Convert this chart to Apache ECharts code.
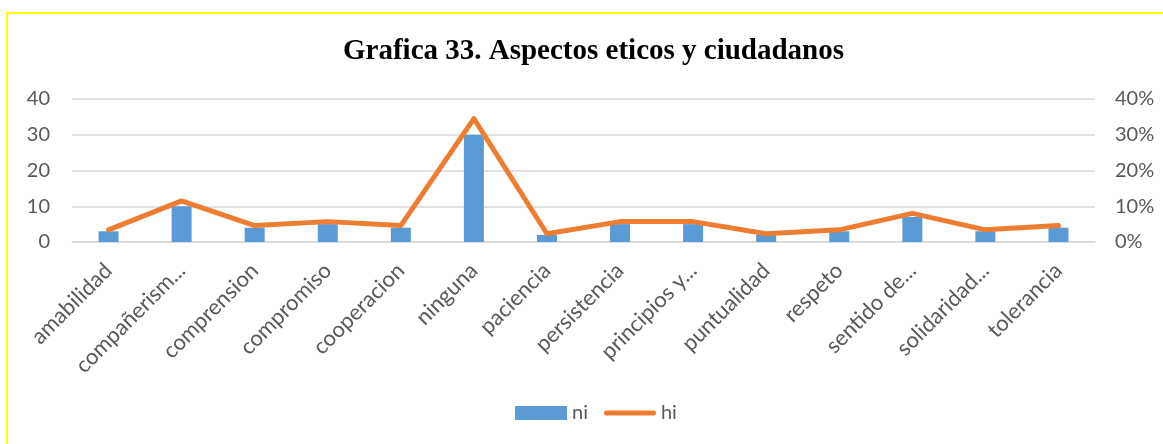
<!DOCTYPE html>
<html>
<head>
<meta charset="utf-8">
<script src="https://cdn.jsdelivr.net/npm/echarts@6/dist/echarts.min.js"></script>
<style>
  html, body { margin: 0; padding: 0; background: #fff; }
  #frame { position: absolute; left: 6px; top: 12px; width: 1200px; height: 480px;
           border: 2px solid #FFFF00; box-sizing: border-box; }
  #chart { position: absolute; left: 0; top: 0; width: 1163px; height: 444px; }
</style>
</head>
<body>
<div id="frame"></div>
<div id="chart"></div>
<script>
// Categories (ethical and civic aspects)
const categories = ['amabilidad', 'compañerism...', 'comprension', 'compromiso', 'cooperacion',
  'ninguna', 'paciencia', 'persistencia', 'principios y...', 'puntualidad', 'respeto',
  'sentido de...', 'solidaridad...', 'tolerancia'];
// Absolute frequency
const ni = [3, 10, 4, 5, 4, 30, 2, 5, 5, 2, 3, 7, 3, 4];
// Relative frequency
const hi = [0.034, 0.115, 0.046, 0.057, 0.046, 0.345, 0.023, 0.057, 0.057, 0.023, 0.034, 0.080, 0.034, 0.046];
// Axis ticks
const leftTicks = [0, 10, 20, 30, 40];
const rightTicks = [0, 0.1, 0.2, 0.3, 0.4];

const labelFont = 'Lato, "Open Sans", sans-serif';
const lineIcon = 'path://M2.5,0 L49.5,0 A2.5,2.5 0 0 1 49.5,5 L2.5,5 A2.5,2.5 0 0 1 2.5,0 Z';
const chart = echarts.init(document.getElementById('chart'), null, { renderer: 'canvas' });
chart.setOption({
  animation: false,
  title: {
    text: 'Grafica 33. Aspectos eticos y ciudadanos',
    left: 338, top: 32,
    textStyle: { fontFamily: '"Liberation Serif", "Times New Roman", serif', fontWeight: 'bold', fontSize: 29, color: '#000' }
  },
  legend: {
    bottom: 16, left: 510,
    itemWidth: 52, itemHeight: 14, itemGap: 16,
    textStyle: { fontFamily: labelFont, fontSize: 20, color: '#595959' },
    data: [
      { name: 'ni', icon: 'rect' },
      { name: 'hi', icon: lineIcon }
    ]
  },
  grid: { left: 72, right: 68, top: 99, bottom: 202, containLabel: false },
  xAxis: {
    type: 'category', data: categories,
    axisLine: { show: true, lineStyle: { color: '#D9D9D9', width: 1.5 } },
    axisTick: { show: false },
    axisLabel: { rotate: 45, interval: 0, margin: 25, fontFamily: labelFont, fontSize: 22, color: '#595959' }
  },
  yAxis: [
    {
      type: 'value', min: leftTicks[0], max: leftTicks[leftTicks.length - 1], interval: 10,
      axisLine: { show: false }, axisTick: { show: false },
      axisLabel: { margin: 22, fontFamily: labelFont, fontSize: 20, color: '#595959' },
      splitLine: { lineStyle: { color: '#D9D9D9', width: 1.5 } }
    },
    {
      type: 'value', min: rightTicks[0], max: rightTicks[rightTicks.length - 1], interval: 0.1,
      axisLine: { show: false }, axisTick: { show: false },
      axisLabel: { margin: 20, fontFamily: labelFont, fontSize: 20, color: '#595959',
        formatter: v => Math.round(v * 100) + '%' },
      splitLine: { show: false }
    }
  ],
  series: [
    {
      name: 'ni', type: 'bar', data: ni, yAxisIndex: 0,
      barWidth: 20, itemStyle: { color: '#5B9BD5' }
    },
    {
      name: 'hi', type: 'line', data: hi, yAxisIndex: 1,
      symbol: 'none', lineStyle: { color: '#ED7D31', width: 5, cap: 'round', join: 'round' },
      itemStyle: { color: '#ED7D31' }
    }
  ]
});
</script>
</body>
</html>
